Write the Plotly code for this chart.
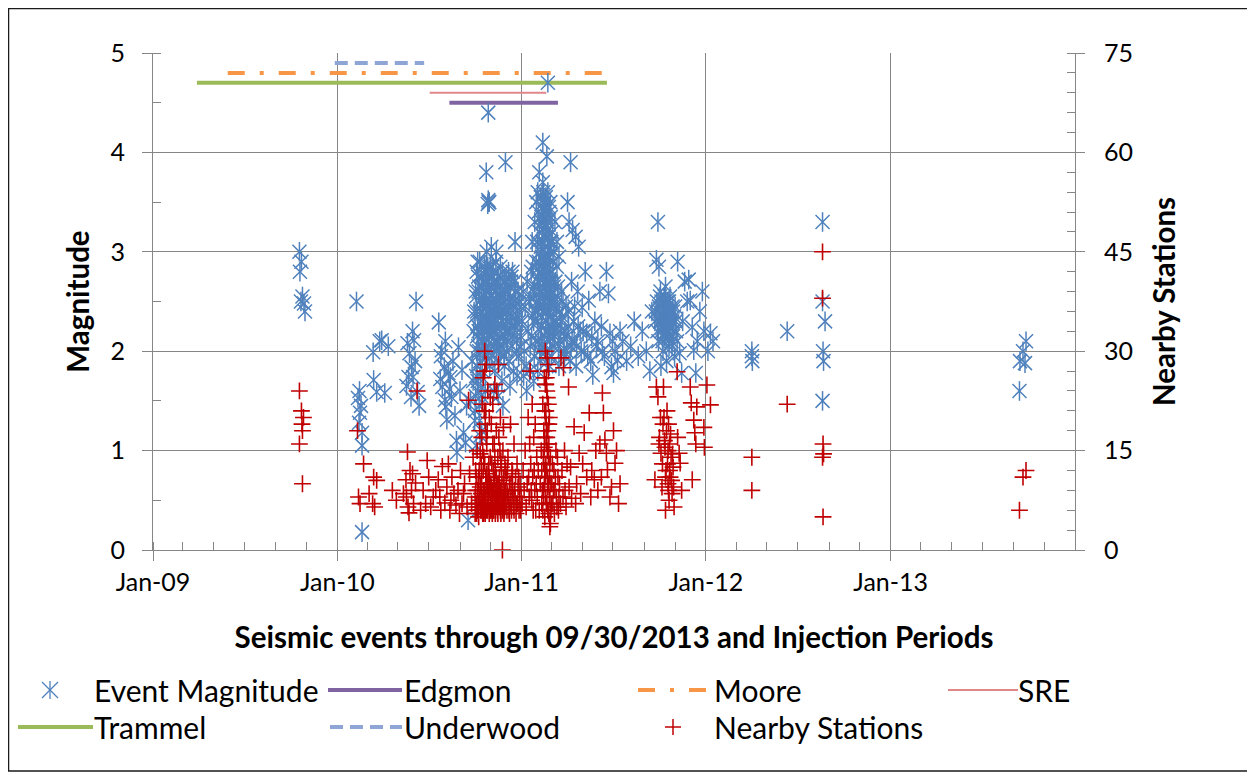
import plotly.graph_objects as go

# ---------------- data ----------------
ev_2009 = [("2009-10-18", 3.0), ("2009-10-22", 2.9), ("2009-10-19", 2.8), ("2009-10-24", 2.55),
           ("2009-10-21", 2.5), ("2009-10-27", 2.48), ("2009-10-29", 2.4)]

ev_early2010 = [
    ("2010-02-08", 2.5), ("2010-02-14", 1.6), ("2010-02-11", 1.53), ("2010-02-15", 1.38), ("2010-02-13", 1.28),
    ("2010-02-19", 1.18), ("2010-02-19", 1.05), ("2010-02-19", 0.18), ("2010-02-17", 1.45),
    ("2010-03-13", 1.99), ("2010-03-14", 1.71), ("2010-03-20", 1.59), ("2010-03-26", 2.1), ("2010-03-30", 2.11),
    ("2010-04-05", 1.58), ("2010-04-12", 2.05),
    ("2010-05-20", 2.08), ("2010-05-24", 1.98), ("2010-05-28", 1.84), ("2010-05-31", 1.74), ("2010-06-06", 2.5),
    ("2010-06-02", 2.11), ("2010-05-22", 1.74), ("2010-06-09", 1.59), ("2010-05-18", 1.65), ("2010-05-27", 1.54),
    ("2010-06-04", 1.9), ("2010-05-30", 2.2), ("2010-06-12", 1.45),
    ("2010-07-21", 2.29), ("2010-07-27", 2.01), ("2010-08-01", 1.84), ("2010-07-28", 1.64), ("2010-08-02", 1.51),
    ("2010-08-04", 1.44), ("2010-08-06", 1.31), ("2010-08-09", 1.78), ("2010-08-13", 1.74), ("2010-08-15", 1.54),
    ("2010-08-25", 1.1), ("2010-08-26", 0.98), ("2010-08-29", 2.04), ("2010-09-05", 1.81), ("2010-09-08", 1.18),
    ("2010-09-12", 1.08), ("2010-07-25", 1.95), ("2010-08-03", 2.1), ("2010-08-18", 1.9), ("2010-08-22", 1.35),
    ("2010-09-01", 1.6), ("2010-09-14", 1.45), ("2010-07-24", 1.72), ("2010-08-11", 1.62), ("2010-09-17", 0.3),
]

ev_late2010 = [
    ("2010-10-27", 4.4), ("2010-10-23", 3.8), ("2010-10-28", 3.5), ("2010-10-27", 3.52), ("2010-10-26", 3.48),
    ("2010-10-29", 3.5), ("2010-10-24", 3.0), ("2010-11-30", 3.9), ("2010-12-19", 3.1), ("2010-11-02", 3.05),
    ("2010-09-22", 1.5), ("2010-09-25", 1.9), ("2010-09-28", 2.2), ("2010-09-30", 1.3), ("2010-10-02", 2.6),
    ("2010-10-03", 1.05), ("2010-10-04", 2.0), ("2010-10-05", 2.4), ("2010-10-06", 1.7), ("2010-10-07", 2.75),
    ("2010-10-08", 2.2), ("2010-10-09", 1.45), ("2010-10-10", 2.5), ("2010-10-11", 1.9), ("2010-10-12", 2.3),
    ("2010-10-13", 2.1), ("2010-10-14", 2.65), ("2010-10-15", 1.8), ("2010-10-16", 2.4), ("2010-10-17", 2.0),
    ("2010-10-18", 2.55), ("2010-10-19", 2.2), ("2010-10-20", 2.85), ("2010-10-21", 1.6), ("2010-10-22", 2.35),
    ("2010-10-23", 2.05), ("2010-10-24", 2.6), ("2010-10-25", 2.25), ("2010-10-26", 1.95), ("2010-10-27", 2.45),
    ("2010-10-28", 2.7), ("2010-10-29", 2.15), ("2010-10-30", 1.85), ("2010-10-31", 2.5),
    ("2010-10-05", 2.15), ("2010-10-08", 2.6), ("2010-10-12", 1.75), ("2010-10-15", 2.45), ("2010-10-18", 2.1),
    ("2010-10-21", 2.7), ("2010-10-24", 2.3), ("2010-10-27", 2.0), ("2010-10-30", 2.4), ("2010-10-10", 1.3),
    ("2010-10-14", 1.2), ("2010-10-02", 1.55), ("2010-10-06", 2.9), ("2010-10-20", 2.5), ("2010-10-26", 2.85),
    ("2010-11-01", 2.3), ("2010-11-02", 2.65), ("2010-11-03", 1.95), ("2010-11-04", 2.5), ("2010-11-05", 2.2),
    ("2010-11-06", 2.8), ("2010-11-07", 2.05), ("2010-11-08", 2.4), ("2010-11-09", 1.8), ("2010-11-10", 2.6),
    ("2010-11-11", 2.25), ("2010-11-12", 2.0), ("2010-11-13", 2.45), ("2010-11-14", 2.7), ("2010-11-15", 2.1),
    ("2010-11-16", 2.35), ("2010-11-17", 1.9), ("2010-11-18", 2.55), ("2010-11-19", 2.2), ("2010-11-20", 2.85),
    ("2010-11-21", 2.0), ("2010-11-22", 2.4), ("2010-11-23", 1.7), ("2010-11-24", 2.6), ("2010-11-25", 2.3),
    ("2010-11-26", 2.1), ("2010-11-27", 2.5), ("2010-11-28", 1.85), ("2010-11-29", 2.45), ("2010-11-30", 2.2),
    ("2010-11-03", 2.75), ("2010-11-07", 1.6), ("2010-11-11", 2.9), ("2010-11-16", 1.55), ("2010-11-19", 2.65),
    ("2010-11-23", 2.35), ("2010-11-27", 1.95), ("2010-11-12", 3.0), ("2010-11-25", 1.45), ("2010-11-08", 2.1),
    ("2010-12-01", 2.4), ("2010-12-02", 2.0), ("2010-12-04", 2.6), ("2010-12-05", 2.2), ("2010-12-07", 1.9),
    ("2010-12-08", 2.5), ("2010-12-10", 2.3), ("2010-12-11", 2.7), ("2010-12-13", 2.05), ("2010-12-15", 2.45),
    ("2010-12-16", 1.8), ("2010-12-18", 2.25), ("2010-12-20", 2.6), ("2010-12-22", 2.0), ("2010-12-24", 2.35),
    ("2010-12-26", 1.95), ("2010-12-28", 2.5), ("2010-12-30", 2.15), ("2010-12-06", 2.8), ("2010-12-12", 2.75),
]

ev_core_2010 = [
    ("2010-10-01", 2.35), ("2010-10-03", 2.55), ("2010-10-04", 2.8), ("2010-10-06", 2.25), ("2010-10-07", 2.05),
    ("2010-10-09", 2.65), ("2010-10-10", 2.9), ("2010-10-11", 2.4), ("2010-10-13", 2.75), ("2010-10-14", 2.3),
    ("2010-10-16", 2.15), ("2010-10-17", 2.7), ("2010-10-19", 2.5), ("2010-10-20", 2.25), ("2010-10-22", 2.6),
    ("2010-10-23", 2.8), ("2010-10-25", 2.45), ("2010-10-26", 2.2), ("2010-10-28", 2.3), ("2010-10-29", 2.65),
    ("2010-10-31", 2.85), ("2010-10-03", 1.75), ("2010-10-07", 1.6), ("2010-10-11", 1.15), ("2010-10-01", 1.4),
    ("2010-09-27", 1.7), ("2010-09-29", 2.4), ("2010-10-05", 1.85), ("2010-10-09", 2.0), ("2010-10-13", 1.55),
    ("2010-11-01", 2.55), ("2010-11-02", 2.15), ("2010-11-04", 2.85), ("2010-11-05", 2.45), ("2010-11-06", 2.3),
    ("2010-11-08", 2.7), ("2010-11-09", 2.2), ("2010-11-10", 2.4), ("2010-11-12", 2.6), ("2010-11-13", 2.1),
    ("2010-11-14", 2.35), ("2010-11-16", 2.75), ("2010-11-17", 2.5), ("2010-11-18", 2.05), ("2010-11-20", 2.45),
    ("2010-11-21", 2.65), ("2010-11-22", 2.25), ("2010-11-24", 2.8), ("2010-11-25", 2.55), ("2010-11-26", 2.4),
    ("2010-11-28", 2.7), ("2010-11-29", 2.15), ("2010-11-30", 2.6),
    ("2010-12-01", 2.7), ("2010-12-03", 2.3), ("2010-12-04", 2.1), ("2010-12-06", 2.45), ("2010-12-07", 2.65),
    ("2010-12-09", 2.2), ("2010-12-10", 2.55), ("2010-12-12", 2.35), ("2010-12-14", 2.8), ("2010-12-15", 2.15),
    ("2010-12-17", 2.5), ("2010-12-18", 2.7), ("2010-12-20", 2.3), ("2010-12-21", 2.45), ("2010-12-23", 2.15),
    ("2010-12-25", 2.6), ("2010-12-27", 2.3), ("2010-12-29", 2.05), ("2010-12-31", 2.45),
    ("2010-12-09", 1.65), ("2010-12-23", 1.75),
]

ev_early2011 = [
    ("2011-02-22", 4.7), ("2011-02-12", 4.1), ("2011-02-20", 3.96), ("2011-02-05", 3.8), ("2011-02-12", 3.7),
    ("2011-02-08", 3.55), ("2011-02-15", 3.5), ("2011-02-19", 3.45), ("2011-02-22", 3.6), ("2011-02-25", 3.4),
    ("2011-02-10", 3.3), ("2011-02-17", 3.25), ("2011-02-14", 3.15), ("2011-02-21", 3.05), ("2011-02-07", 3.0),
    ("2011-02-24", 2.95), ("2011-02-28", 3.35), ("2011-03-03", 3.2), ("2011-03-06", 3.0),
    ("2011-01-02", 2.3), ("2011-01-04", 2.6), ("2011-01-06", 2.0), ("2011-01-08", 2.45), ("2011-01-10", 1.85),
    ("2011-01-12", 2.7), ("2011-01-14", 2.2), ("2011-01-16", 2.5), ("2011-01-18", 2.05), ("2011-01-20", 2.8),
    ("2011-01-22", 2.35), ("2011-01-24", 2.6), ("2011-01-26", 1.95), ("2011-01-28", 2.4), ("2011-01-30", 2.9),
    ("2011-02-01", 2.4), ("2011-02-02", 2.7), ("2011-02-03", 2.1), ("2011-02-04", 2.9), ("2011-02-06", 2.5),
    ("2011-02-07", 2.2), ("2011-02-09", 2.8), ("2011-02-10", 2.35), ("2011-02-11", 2.6), ("2011-02-12", 2.05),
    ("2011-02-13", 2.75), ("2011-02-14", 2.45), ("2011-02-15", 2.15), ("2011-02-16", 2.85), ("2011-02-17", 2.55),
    ("2011-02-18", 2.3), ("2011-02-19", 2.0), ("2011-02-20", 2.65), ("2011-02-21", 2.4), ("2011-02-22", 2.95),
    ("2011-02-23", 2.2), ("2011-02-24", 2.7), ("2011-02-25", 2.5), ("2011-02-26", 2.1), ("2011-02-27", 2.8),
    ("2011-02-28", 2.35), ("2011-03-01", 2.6), ("2011-03-02", 2.25), ("2011-03-04", 2.9), ("2011-03-05", 2.45),
    ("2011-03-07", 2.15), ("2011-03-09", 2.7), ("2011-03-11", 2.3), ("2011-03-13", 2.55), ("2011-03-15", 2.05),
    ("2011-03-17", 2.4), ("2011-03-19", 2.2), ("2011-03-21", 2.6),
    ("2011-02-05", 2.6), ("2011-02-08", 1.9), ("2011-02-11", 3.1), ("2011-02-14", 2.9), ("2011-02-17", 2.0),
    ("2011-02-20", 3.2), ("2011-02-23", 2.6), ("2011-02-26", 3.1), ("2011-03-01", 1.95), ("2011-03-04", 2.2),
    ("2011-03-08", 2.5), ("2011-03-12", 2.85), ("2011-02-03", 3.4), ("2011-02-27", 3.5), ("2011-02-09", 3.35),
    ("2011-02-18", 2.7),
    ("2011-01-05", 1.75), ("2011-01-11", 1.6), ("2011-01-17", 1.8), ("2011-01-25", 1.7), ("2011-02-02", 1.8),
    ("2011-02-25", 1.85),
]

ev_core_2011 = [
    ("2011-01-19", 2.55), ("2011-01-21", 2.15), ("2011-01-23", 2.85), ("2011-01-25", 2.3), ("2011-01-27", 2.65),
    ("2011-01-29", 2.1), ("2011-01-31", 2.5),
    ("2011-02-01", 3.1), ("2011-02-02", 2.3), ("2011-02-03", 2.75), ("2011-02-04", 2.45), ("2011-02-05", 3.2),
    ("2011-02-06", 2.85), ("2011-02-07", 2.6), ("2011-02-08", 3.05), ("2011-02-09", 2.25), ("2011-02-10", 2.95),
    ("2011-02-11", 2.4), ("2011-02-12", 3.45), ("2011-02-13", 2.5), ("2011-02-14", 3.3), ("2011-02-15", 2.75),
    ("2011-02-16", 3.4), ("2011-02-17", 2.9), ("2011-02-18", 3.55), ("2011-02-19", 2.6), ("2011-02-20", 2.8),
    ("2011-02-21", 3.3), ("2011-02-22", 2.5), ("2011-02-23", 3.15), ("2011-02-24", 2.35), ("2011-02-25", 2.95),
    ("2011-02-26", 2.55), ("2011-02-27", 3.0), ("2011-02-28", 2.7), ("2011-03-01", 3.1), ("2011-03-02", 2.5),
    ("2011-03-03", 2.8), ("2011-03-05", 2.3), ("2011-03-06", 2.65), ("2011-03-08", 2.2), ("2011-03-10", 2.45),
    ("2011-02-13", 3.6), ("2011-02-16", 3.05), ("2011-02-19", 3.25), ("2011-02-21", 2.2), ("2011-02-24", 3.45),
    ("2011-02-10", 2.1), ("2011-02-06", 2.0), ("2011-02-27", 2.15), ("2011-03-04", 2.05), ("2011-02-15", 3.35),
    ("2011-03-14", 2.65), ("2011-03-18", 2.1), ("2011-03-22", 2.35), ("2011-03-26", 2.15), ("2011-03-31", 2.0),
    ("2011-04-04", 2.25), ("2011-04-09", 2.05),
    ("2011-01-22", 3.1), ("2011-01-27", 3.3), ("2011-01-30", 3.5), ("2011-02-02", 3.6), ("2011-03-08", 3.3),
    ("2011-03-12", 3.1), ("2011-03-16", 2.95),
]

ev_mid2011 = [
    ("2011-03-25", 2.0), ("2011-03-28", 2.2), ("2011-04-02", 3.5), ("2011-04-05", 3.3), ("2011-04-08", 3.9),
    ("2011-04-12", 3.22), ("2011-04-15", 2.1), ("2011-04-18", 3.15), ("2011-04-20", 2.05), ("2011-04-24", 3.05),
    ("2011-04-27", 2.2), ("2011-05-01", 2.44), ("2011-05-05", 2.0), ("2011-05-10", 2.18), ("2011-05-14", 2.51),
    ("2011-05-18", 1.9), ("2011-05-22", 1.76), ("2011-05-26", 2.3), ("2011-06-01", 2.1), ("2011-06-05", 2.6),
    ("2011-06-10", 2.0), ("2011-06-18", 2.8), ("2011-06-22", 2.58), ("2011-06-25", 2.18), ("2011-06-28", 1.84),
    ("2011-07-02", 1.78), ("2011-07-05", 2.0), ("2011-07-10", 1.91), ("2011-07-15", 2.2), ("2011-04-10", 2.7),
    ("2011-04-22", 2.6), ("2011-05-07", 2.8), ("2011-03-30", 2.45), ("2011-04-01", 2.15), ("2011-04-14", 2.3),
    ("2011-07-20", 2.1), ("2011-07-28", 1.9), ("2011-08-05", 2.05), ("2011-08-12", 2.3), ("2011-08-20", 1.95),
    ("2011-08-28", 2.2), ("2011-09-05", 2.0), ("2011-09-12", 1.8), ("2011-09-16", 2.4),
    ("2011-03-16", 1.85), ("2011-03-20", 2.3), ("2011-03-24", 2.5), ("2011-03-27", 1.95), ("2011-04-03", 2.4),
    ("2011-04-07", 1.9), ("2011-04-11", 2.1), ("2011-04-16", 2.45), ("2011-04-19", 1.85), ("2011-04-23", 2.25),
    ("2011-04-29", 2.0), ("2011-05-03", 2.2), ("2011-05-12", 1.95), ("2011-05-20", 2.15), ("2011-05-29", 2.05),
    ("2011-06-08", 2.25), ("2011-06-14", 1.95), ("2011-06-30", 2.1),
]

ev_late2011 = [
    ("2011-09-28", 3.3), ("2011-09-25", 2.92), ("2011-09-30", 2.85), ("2011-11-06", 2.9),
    ("2011-09-22", 2.3), ("2011-09-26", 2.5), ("2011-09-29", 2.1), ("2011-10-01", 2.4), ("2011-10-03", 2.6),
    ("2011-10-05", 2.2), ("2011-10-06", 2.45), ("2011-10-08", 2.0), ("2011-10-09", 2.35), ("2011-10-11", 2.55),
    ("2011-10-12", 2.15), ("2011-10-14", 2.4), ("2011-10-15", 1.9), ("2011-10-17", 2.5), ("2011-10-18", 2.25),
    ("2011-10-20", 2.05), ("2011-10-21", 2.4), ("2011-10-23", 2.3), ("2011-10-25", 2.1), ("2011-10-27", 2.45),
    ("2011-10-29", 2.2), ("2011-10-31", 1.95), ("2011-11-02", 2.3), ("2011-11-05", 2.1),
    ("2011-10-02", 2.3), ("2011-10-07", 2.1), ("2011-10-10", 2.5), ("2011-10-13", 2.65), ("2011-10-16", 2.2),
    ("2011-10-19", 2.35), ("2011-10-22", 2.55), ("2011-10-26", 2.05), ("2011-10-04", 1.85), ("2011-10-28", 2.4),
    ("2011-09-24", 2.4), ("2011-09-27", 2.2), ("2011-09-30", 2.45), ("2011-10-02", 2.55), ("2011-10-04", 2.3),
    ("2011-10-05", 2.5), ("2011-10-07", 2.35), ("2011-10-08", 2.25), ("2011-10-10", 2.3), ("2011-10-11", 2.15),
    ("2011-10-13", 2.4), ("2011-10-14", 2.2), ("2011-10-16", 2.45), ("2011-10-17", 2.3), ("2011-10-19", 2.15),
    ("2011-10-20", 2.5), ("2011-10-22", 2.25), ("2011-10-24", 2.4), ("2011-10-26", 2.3), ("2011-10-28", 2.15),
    ("2011-10-30", 2.35), ("2011-11-01", 2.45), ("2011-11-03", 2.2),
    ("2011-11-10", 1.98), ("2011-11-14", 1.78), ("2011-11-20", 2.7), ("2011-11-25", 2.5), ("2011-11-28", 2.72),
    ("2011-12-01", 2.51), ("2011-12-05", 2.24), ("2011-12-08", 2.01), ("2011-12-12", 1.78), ("2011-12-15", 2.1),
    ("2011-12-20", 2.4), ("2011-12-25", 2.6), ("2011-12-28", 2.2), ("2012-01-05", 2.0), ("2012-01-10", 2.18),
    ("2012-01-15", 2.1), ("2011-11-16", 2.3),
]

ev_2012_2013 = [
    ("2012-04-01", 2.0), ("2012-04-02", 1.9), ("2012-04-01", 1.95), ("2012-06-10", 2.2),
    ("2012-08-19", 3.3), ("2012-08-19", 2.5), ("2012-08-24", 2.3), ("2012-08-20", 2.0), ("2012-08-21", 1.9),
    ("2012-08-19", 1.5),
    ("2013-09-14", 1.9), ("2013-09-20", 2.0), ("2013-09-26", 2.1), ("2013-09-24", 1.88), ("2013-09-13", 1.6),
]

st_2009_2010 = [
    ("2009-10-18", 24), ("2009-10-22", 21), ("2009-10-26", 20), ("2009-10-23", 19), ("2009-10-24", 18),
    ("2009-10-18", 16), ("2009-10-24", 10),
    ("2010-02-10", 18), ("2010-02-22", 13), ("2010-02-12", 8), ("2010-02-15", 7), ("2010-03-05", 8.5),
    ("2010-03-12", 7), ("2010-03-14", 11), ("2010-03-20", 10.5), ("2010-03-16", 6.5),
    ("2010-05-20", 14.8), ("2010-05-17", 10.6), ("2010-05-18", 8), ("2010-05-23", 5.6), ("2010-05-25", 12),
    ("2010-05-28", 9), ("2010-06-05", 10.1), ("2010-06-08", 24), ("2010-05-12", 8.5), ("2010-06-01", 7),
    ("2010-05-30", 11.5), ("2010-05-21", 6.5),
    ("2010-07-15", 9), ("2010-07-20", 10.6), ("2010-07-23", 8), ("2010-07-28", 12.6), ("2010-08-02", 7.1),
    ("2010-08-06", 9.5), ("2010-08-12", 6), ("2010-08-16", 11), ("2010-08-20", 8.5), ("2010-08-28", 9),
    ("2010-09-05", 7), ("2010-09-10", 10), ("2010-09-15", 6.5), ("2010-09-18", 22.6), ("2010-07-25", 6),
    ("2010-08-09", 13), ("2010-08-24", 6.8), ("2010-09-02", 12),
    ("2010-06-15", 6), ("2010-06-20", 9), ("2010-06-25", 7), ("2010-07-01", 11), ("2010-07-05", 6.5),
    ("2010-07-10", 8), ("2010-08-14", 7.5), ("2010-08-31", 5.5), ("2010-09-08", 8.5), ("2010-09-20", 11.5),
    ("2010-09-24", 7), ("2010-09-27", 14), ("2010-06-28", 13.5), ("2010-04-20", 9), ("2010-04-28", 7.5),
]

st_late2010 = [
    ("2010-10-01", 8), ("2010-10-02", 12), ("2010-10-03", 6), ("2010-10-05", 15), ("2010-10-06", 9),
    ("2010-10-07", 7), ("2010-10-08", 11), ("2010-10-10", 18), ("2010-10-11", 6.5), ("2010-10-12", 10),
    ("2010-10-13", 13), ("2010-10-14", 8), ("2010-10-15", 22), ("2010-10-16", 7), ("2010-10-17", 26),
    ("2010-10-18", 14), ("2010-10-19", 9), ("2010-10-20", 30), ("2010-10-21", 19), ("2010-10-22", 11),
    ("2010-10-23", 28), ("2010-10-24", 16), ("2010-10-25", 7.5), ("2010-10-26", 24), ("2010-10-27", 12),
    ("2010-10-28", 9), ("2010-10-29", 20), ("2010-10-30", 6), ("2010-10-31", 14),
    ("2010-10-04", 5.5), ("2010-10-09", 7.5), ("2010-10-18", 5.5), ("2010-10-21", 8), ("2010-10-24", 6),
    ("2010-10-27", 10), ("2010-10-13", 6), ("2010-10-20", 13), ("2010-10-23", 17), ("2010-10-26", 8.5),
    ("2010-10-29", 11), ("2010-10-16", 15), ("2010-10-19", 21),
    ("2010-11-01", 10), ("2010-11-02", 7), ("2010-11-03", 13), ("2010-11-04", 9), ("2010-11-05", 16),
    ("2010-11-06", 6), ("2010-11-07", 11), ("2010-11-08", 8), ("2010-11-09", 25), ("2010-11-10", 12),
    ("2010-11-11", 7), ("2010-11-12", 18), ("2010-11-13", 9.5), ("2010-11-14", 6), ("2010-11-15", 14),
    ("2010-11-16", 28), ("2010-11-17", 8), ("2010-11-18", 11), ("2010-11-19", 6.5), ("2010-11-20", 20),
    ("2010-11-21", 9), ("2010-11-22", 12.5), ("2010-11-23", 7), ("2010-11-24", 0), ("2010-11-25", 15),
    ("2010-11-26", 8), ("2010-11-27", 10.5), ("2010-11-28", 6), ("2010-11-29", 13), ("2010-11-30", 9),
    ("2010-11-03", 6), ("2010-11-06", 9), ("2010-11-09", 14), ("2010-11-12", 7.5), ("2010-11-15", 10),
    ("2010-11-18", 6.5), ("2010-11-21", 13.5), ("2010-11-27", 7), ("2010-11-05", 22), ("2010-11-17", 17),
    ("2010-12-01", 7), ("2010-12-02", 11), ("2010-12-04", 8.5), ("2010-12-05", 14), ("2010-12-07", 6),
    ("2010-12-08", 10), ("2010-12-10", 19), ("2010-12-11", 7.5), ("2010-12-13", 12), ("2010-12-14", 9),
    ("2010-12-16", 6.5), ("2010-12-17", 16), ("2010-12-19", 8), ("2010-12-20", 11), ("2010-12-22", 7),
    ("2010-12-23", 13), ("2010-12-25", 9.5), ("2010-12-27", 6), ("2010-12-29", 10), ("2010-12-31", 8),
]

st_core_2010 = [
    ("2010-10-01", 5.5), ("2010-10-02", 9), ("2010-10-03", 11), ("2010-10-04", 7), ("2010-10-06", 6),
    ("2010-10-07", 10), ("2010-10-08", 5), ("2010-10-09", 12), ("2010-10-10", 8), ("2010-10-11", 9.5),
    ("2010-10-12", 6), ("2010-10-13", 8.5), ("2010-10-14", 11), ("2010-10-15", 7), ("2010-10-16", 5.5),
    ("2010-10-17", 9), ("2010-10-18", 7.5), ("2010-10-19", 6), ("2010-10-20", 8), ("2010-10-21", 5.5),
    ("2010-10-22", 7), ("2010-10-23", 9.5), ("2010-10-24", 11.5), ("2010-10-25", 10), ("2010-10-26", 6),
    ("2010-10-27", 7), ("2010-10-28", 13), ("2010-10-29", 5.5), ("2010-10-30", 9), ("2010-10-31", 7),
    ("2010-11-01", 6), ("2010-11-02", 9.5), ("2010-11-03", 8), ("2010-11-04", 5.5), ("2010-11-05", 7),
    ("2010-11-06", 12), ("2010-11-07", 6), ("2010-11-08", 10.5), ("2010-11-09", 7), ("2010-11-10", 5.5),
    ("2010-11-11", 9), ("2010-11-12", 11), ("2010-11-13", 6.5), ("2010-11-14", 8.5), ("2010-11-15", 5.5),
    ("2010-11-16", 7), ("2010-11-17", 10), ("2010-11-18", 8), ("2010-11-19", 9), ("2010-11-20", 6),
    ("2010-11-21", 5.5), ("2010-11-22", 8), ("2010-11-23", 10), ("2010-11-24", 6), ("2010-11-25", 7.5),
    ("2010-11-26", 11), ("2010-11-27", 5.5), ("2010-11-28", 8.5), ("2010-11-29", 6.5), ("2010-11-30", 12),
    ("2010-12-01", 9), ("2010-12-03", 6), ("2010-12-04", 12), ("2010-12-06", 8), ("2010-12-08", 5.5),
    ("2010-12-09", 7), ("2010-12-11", 10), ("2010-12-12", 6), ("2010-12-14", 11.5), ("2010-12-15", 8),
    ("2010-12-17", 6), ("2010-12-18", 9), ("2010-12-21", 5.5), ("2010-12-24", 7), ("2010-12-26", 11),
    ("2010-12-28", 8), ("2010-12-30", 6),
    ("2010-10-14", 17), ("2010-10-22", 21), ("2010-10-25", 18), ("2010-10-31", 23), ("2010-11-02", 19),
    ("2010-11-08", 16), ("2010-11-13", 24), ("2010-11-19", 15), ("2010-11-26", 18.5), ("2010-10-11", 14.5),
    ("2010-10-20", 27), ("2010-10-17", 12),
]

st_2011 = [
    ("2011-01-02", 7), ("2011-01-04", 12), ("2011-01-06", 9), ("2011-01-08", 15), ("2011-01-10", 6.5),
    ("2011-01-12", 10), ("2011-01-14", 20), ("2011-01-16", 8), ("2011-01-18", 27), ("2011-01-19", 13),
    ("2011-01-21", 7.5), ("2011-01-23", 11), ("2011-01-25", 17), ("2011-01-27", 9), ("2011-01-29", 6),
    ("2011-01-31", 14),
    ("2011-02-01", 8), ("2011-02-03", 12), ("2011-02-05", 6), ("2011-02-07", 10), ("2011-02-09", 15),
    ("2011-02-10", 7), ("2011-02-12", 22), ("2011-02-13", 9), ("2011-02-14", 18), ("2011-02-15", 26),
    ("2011-02-16", 12), ("2011-02-17", 30), ("2011-02-18", 21), ("2011-02-19", 16), ("2011-02-20", 24),
    ("2011-02-21", 11), ("2011-02-22", 28), ("2011-02-23", 14), ("2011-02-24", 19), ("2011-02-25", 8),
    ("2011-02-26", 13), ("2011-02-27", 4), ("2011-02-28", 6), ("2011-03-02", 10), ("2011-03-04", 7),
    ("2011-03-06", 12), ("2011-03-08", 9), ("2011-03-10", 15), ("2011-03-12", 6.5), ("2011-03-14", 11),
    ("2011-03-16", 8),
    ("2011-02-16", 5), ("2011-02-19", 7), ("2011-02-22", 9.5), ("2011-02-18", 25), ("2011-02-20", 17),
    ("2011-02-14", 13), ("2011-02-24", 5.5), ("2011-02-17", 20), ("2011-02-21", 23), ("2011-02-15", 15.5),
    ("2011-02-23", 27), ("2011-02-26", 3.5),
    ("2011-03-20", 29), ("2011-03-25", 27.5), ("2011-03-28", 9), ("2011-04-01", 13), ("2011-04-04", 24.6),
    ("2011-04-08", 12.5), ("2011-04-10", 7.8), ("2011-04-15", 18.6), ("2011-04-20", 10), ("2011-04-25", 14.6),
    ("2011-04-28", 8.5), ("2011-05-05", 17.7), ("2011-05-10", 11), ("2011-05-15", 20.7), ("2011-05-20", 12),
    ("2011-05-25", 10.6), ("2011-06-01", 9), ("2011-06-05", 16), ("2011-06-10", 23.7), ("2011-06-12", 20.7),
    ("2011-06-15", 16.6), ("2011-06-18", 14.6), ("2011-06-20", 12.1), ("2011-06-25", 8), ("2011-07-05", 13.1),
    ("2011-07-08", 15), ("2011-07-12", 7),
    ("2011-04-05", 9.5), ("2011-04-18", 7), ("2011-05-02", 13), ("2011-05-18", 8), ("2011-05-28", 15),
    ("2011-06-08", 11), ("2011-06-28", 9.5), ("2011-07-02", 18), ("2011-07-15", 10),
    ("2011-09-25", 24.6), ("2011-09-28", 23.1), ("2011-10-01", 17), ("2011-10-04", 14.6), ("2011-10-06", 9.5),
    ("2011-09-22", 10.6), ("2011-10-09", 24.6), ("2011-10-10", 20), ("2011-10-12", 15.5), ("2011-10-14", 12),
    ("2011-10-15", 18), ("2011-10-17", 13), ("2011-10-18", 10), ("2011-10-20", 7.5), ("2011-10-21", 16),
    ("2011-10-22", 11), ("2011-10-24", 14), ("2011-10-26", 8.5), ("2011-10-28", 12.5), ("2011-10-30", 6.5),
    ("2011-11-05", 26.9), ("2011-11-06", 17), ("2011-11-09", 14.6), ("2011-11-11", 13.1), ("2011-11-14", 9),
    ("2011-10-13", 6), ("2011-10-19", 19),
    ("2011-12-01", 24.6), ("2011-12-03", 22.2), ("2011-12-08", 19.6), ("2011-12-10", 17.7), ("2011-12-12", 16),
    ("2011-12-14", 21.6), ("2011-12-05", 10.6), ("2012-01-03", 24.9), ("2012-01-10", 21.9), ("2011-12-28", 18.5),
    ("2011-12-29", 15.5),
]

st_core_2011 = [
    ("2011-02-10", 12), ("2011-02-11", 9), ("2011-02-12", 6), ("2011-02-13", 14), ("2011-02-14", 8),
    ("2011-02-15", 10), ("2011-02-16", 17), ("2011-02-16", 21), ("2011-02-17", 11), ("2011-02-17", 25),
    ("2011-02-18", 13), ("2011-02-18", 8), ("2011-02-19", 19), ("2011-02-19", 26), ("2011-02-20", 12),
    ("2011-02-20", 7), ("2011-02-21", 15), ("2011-02-21", 29), ("2011-02-22", 18), ("2011-02-22", 6),
    ("2011-02-23", 10), ("2011-02-23", 22), ("2011-02-24", 16), ("2011-02-25", 11), ("2011-02-25", 20),
    ("2011-02-26", 8), ("2011-02-27", 14), ("2011-02-28", 10), ("2011-03-01", 7), ("2011-03-03", 13),
    ("2011-03-05", 9), ("2011-03-07", 5.5), ("2011-03-09", 11), ("2011-03-11", 8), ("2011-03-13", 14),
    ("2011-03-15", 6), ("2011-03-17", 10), ("2011-03-19", 7), ("2011-03-22", 12), ("2011-03-24", 8),
    ("2011-03-27", 15), ("2011-03-30", 6.5),
    ("2011-01-15", 11), ("2011-01-17", 16), ("2011-01-20", 9), ("2011-01-22", 22), ("2011-01-24", 6),
    ("2011-01-26", 12), ("2011-01-28", 19), ("2011-01-30", 10),
    ("2011-10-08", 19), ("2011-10-11", 16.5), ("2011-10-13", 11), ("2011-10-16", 21), ("2011-10-18", 15),
    ("2011-10-19", 9), ("2011-10-21", 12), ("2011-10-23", 17.5), ("2011-10-25", 10.5), ("2011-10-27", 14.5),
    ("2011-10-29", 9.5), ("2011-10-07", 13), ("2011-10-03", 20), ("2011-09-30", 16),
]

st_2012_2013 = [
    ("2012-04-01", 14), ("2012-04-01", 9), ("2012-06-10", 22), ("2012-08-19", 45), ("2012-08-19", 38),
    ("2012-08-20", 16), ("2012-08-21", 14.5), ("2012-08-19", 14), ("2012-08-20", 5),
    ("2013-09-26", 12), ("2013-09-20", 11), ("2013-09-13", 6),
]

well_names = ["Edgmon", "Moore", "SRE", "Trammel", "Underwood"]
well_start = ["2010-08-11", "2009-05-29", "2010-07-03", "2009-03-29", "2009-12-27"]
well_end = ["2011-03-14", "2011-07-02", "2011-02-19", "2011-06-19", "2010-06-22"]
well_level = [4.5, 4.8, 4.6, 4.7, 4.9]

x_tick_vals = ["2009-01-01", "2010-01-01", "2011-01-01", "2012-01-01", "2013-01-01"]
x_tick_text = ["Jan-09", "Jan-10", "Jan-11", "Jan-12", "Jan-13"]

# ---------------- styles ----------------
BLUE = "#4F81BD"
RED = "#C00000"
GRID = "#868686"
FONT = "Lato"
well_style = {
    "Edgmon": dict(color="#8064A2", width=4, dash="solid"),
    "Moore": dict(color="#F79646", width=4, dash="17px,15px,4px,15px"),
    "SRE": dict(color="#E0878A", width=2, dash="solid"),
    "Trammel": dict(color="#9BBB59", width=4, dash="solid"),
    "Underwood": dict(color="#8EA5D6", width=4, dash="13px,7px"),
}

events = (ev_2009 + ev_early2010 + ev_late2010 + ev_core_2010 + ev_early2011 + ev_core_2011
          + ev_mid2011 + ev_late2011 + ev_2012_2013)
stations = st_2009_2010 + st_late2010 + st_core_2010 + st_2011 + st_core_2011 + st_2012_2013
ev_x = [d for d, _ in events]
ev_y = [v for _, v in events]
st_x = [d for d, _ in stations]
st_y = [v for _, v in stations]

fig = go.Figure()

for name, s, e, lvl in zip(well_names, well_start, well_end, well_level):
    st = well_style[name]
    fig.add_trace(go.Scatter(x=[s, e], y=[lvl, lvl], mode="lines", name=name, showlegend=False,
                             line=dict(color=st["color"], width=st["width"], dash=st["dash"])))

fig.add_trace(go.Scatter(x=ev_x, y=ev_y, mode="markers", name="Event Magnitude", showlegend=False,
                         cliponaxis=False,
                         marker=dict(symbol="x-thin-open", size=14, color=BLUE, line=dict(color=BLUE, width=1.5))))
fig.add_trace(go.Scatter(x=ev_x, y=ev_y, mode="markers", name="Event Magnitude", showlegend=False,
                         cliponaxis=False,
                         marker=dict(symbol="line-ns-open", size=14, color=BLUE, line=dict(color=BLUE, width=1.5))))
fig.add_trace(go.Scatter(x=st_x, y=st_y, mode="markers", name="Nearby Stations", showlegend=False,
                         yaxis="y2", cliponaxis=False,
                         marker=dict(symbol="cross-thin-open", size=12, color=RED, line=dict(color=RED, width=1.6))))

# ---------------- layout ----------------
# the page adds an 8px body margin, so the figure is 8px smaller than the window
FIG_W, FIG_H = 1247, 765
OFF = 8
PL, PR, PT, PB = 153, 1075, 53, 550          # plot area in window pixels
PW, PH = PR - PL, PB - PT


def px2x(px):
    return (px - PL) / PW


def py2y(py):
    return (PB - py) / PH


shapes = []
annotations = []

# outer border
shapes.append(dict(type="rect", xref="paper", yref="paper", x0=px2x(8.5), x1=px2x(1252.5),
                   y0=py2y(771), y1=py2y(8.5), line=dict(color="#1a1a1a", width=1.5), layer="below"))

# manual legend
LEG_FONT = dict(family=FONT, size=30, color="#000")
row1, row2 = 690, 727


def leg_line(x0, x1, yy, style):
    shapes.append(dict(type="line", xref="paper", yref="paper", x0=px2x(x0), x1=px2x(x1),
                       y0=py2y(yy), y1=py2y(yy),
                       line=dict(color=style["color"], width=style["width"], dash=style["dash"])))


def leg_text(x, yy, txt):
    annotations.append(dict(xref="paper", yref="paper", x=px2x(x), y=py2y(yy), text=txt,
                            showarrow=False, xanchor="left", yanchor="middle", font=LEG_FONT))


cx, cy, r = 50, row1, 8
for dx0, dy0, dx1, dy1 in [(-r, -r, r, r), (-r, r, r, -r), (0, -r - 1, 0, r + 1)]:
    shapes.append(dict(type="line", xref="paper", yref="paper", x0=px2x(cx + dx0), x1=px2x(cx + dx1),
                       y0=py2y(cy + dy0), y1=py2y(cy + dy1), line=dict(color=BLUE, width=1.3)))
leg_text(92, row1, "Event Magnitude")
leg_line(328, 402, row1, well_style["Edgmon"])
leg_text(402, row1, "Edgmon")
leg_line(638, 712, row1, well_style["Moore"])
leg_text(712, row1, "Moore")
leg_line(948, 1018, row1, well_style["SRE"])
leg_text(1016, row1, "SRE")
leg_line(18, 93, row2, well_style["Trammel"])
leg_text(92, row2, "Trammel")
leg_line(330, 402, row2, well_style["Underwood"])
leg_text(402, row2, "Underwood")
cx, cy, r = 673, row2, 8
for dx0, dy0, dx1, dy1 in [(-r, 0, r, 0), (0, -r, 0, r)]:
    shapes.append(dict(type="line", xref="paper", yref="paper", x0=px2x(cx + dx0), x1=px2x(cx + dx1),
                       y0=py2y(cy + dy0), y1=py2y(cy + dy1), line=dict(color=RED, width=1.5)))
leg_text(712, row2, "Nearby Stations")

TICK_FONT = dict(family=FONT, size=25, color="#000")
TITLE_FONT = dict(family=FONT, size=29.5, color="#000", weight="bold")

fig.update_layout(
    width=FIG_W, height=FIG_H, autosize=False,
    margin=dict(l=PL - OFF, r=FIG_W - (PR - OFF), t=PT - OFF, b=FIG_H - (PB - OFF), pad=0),
    paper_bgcolor="white", plot_bgcolor="white",
    showlegend=False,
    font=dict(family=FONT, color="#000"),
    shapes=shapes, annotations=annotations,
    xaxis=dict(type="date", range=["2009-01-01", "2014-01-01"], tickmode="array",
               tickvals=x_tick_vals, ticktext=x_tick_text, tickfont=TICK_FONT,
               showgrid=True, gridcolor=GRID, gridwidth=1.2,
               showline=True, linecolor=GRID, linewidth=1.2, zeroline=False,
               ticks="outside", ticklen=10, tickcolor=GRID, tickwidth=1.2,
               minor=dict(ticks="inside", ticklen=8, tickcolor=GRID, tickwidth=1.2,
                          dtick="M2", tick0="2009-01-01", showgrid=False),
               title=dict(text="Seismic events through 09/30/2013 and Injection Periods",
                          font=TITLE_FONT, standoff=32)),
    yaxis=dict(range=[0, 5], dtick=1, tick0=0, tickfont=TICK_FONT,
               showgrid=True, gridcolor=GRID, gridwidth=1.2,
               showline=True, linecolor=GRID, linewidth=1.2, zeroline=False,
               ticks="outside", ticklen=10, tickcolor=GRID, tickwidth=1.2,
               ticklabelstandoff=12,
               minor=dict(ticks="inside", ticklen=8, tickcolor=GRID, tickwidth=1.2, dtick=0.5, showgrid=False),
               title=dict(text="Magnitude", font=TITLE_FONT, standoff=12)),
    yaxis2=dict(range=[0, 75], dtick=15, tick0=0, tickfont=TICK_FONT, overlaying="y", side="right",
                showgrid=False, showline=True, linecolor=GRID, linewidth=1.2, zeroline=False,
                ticks="outside", ticklen=9, tickcolor=GRID, tickwidth=1.2,
                ticklabelstandoff=14,
                minor=dict(ticks="inside", ticklen=8, tickcolor=GRID, tickwidth=1.2, dtick=3, showgrid=False),
                title=dict(text="Nearby Stations", font=TITLE_FONT, standoff=22)),
)

fig.write_html("out.html")
